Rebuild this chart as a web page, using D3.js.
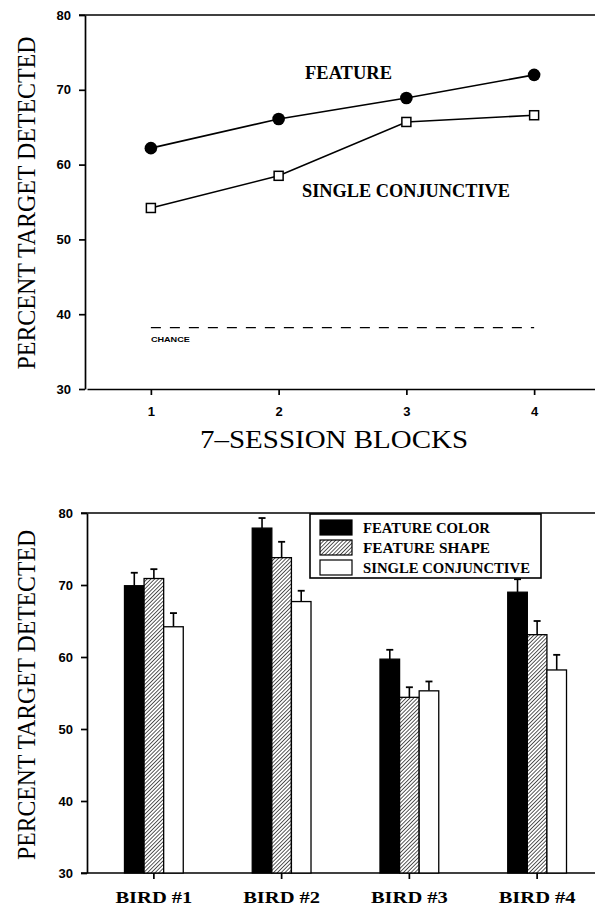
<!DOCTYPE html>
<html>
<head>
<meta charset="utf-8">
<script src="https://cdn.jsdelivr.net/npm/d3@7"></script>
<style>
  body { margin: 0; background: #fff; }
  svg { display: block; }
</style>
</head>
<body>
<svg id="fig"></svg>
<script>
// page size
const width = 595, height = 909;

// top panel data
const blocks = [1, 2, 3, 4];
const featureVals = [62.2, 66.1, 68.9, 72.0];
const conjVals = [54.2, 58.5, 65.7, 66.6];
const chanceVal = 38.2;
const yTicks = [30, 40, 50, 60, 70, 80];

// bottom panel data
const birds = ["BIRD  #1", "BIRD  #2", "BIRD  #3", "BIRD  #4"];
const seriesNames = ["FEATURE COLOR", "FEATURE SHAPE", "SINGLE CONJUNCTIVE"];
const colorVals = [69.9, 77.9, 59.7, 69.0];
const shapeVals = [70.9, 73.8, 54.4, 63.1];
const conjBarVals = [64.2, 67.7, 55.3, 58.2];
const colorErr = [1.8, 1.4, 1.3, 1.8];
const shapeErr = [1.3, 2.2, 1.4, 1.9];
const conjErr = [1.9, 1.5, 1.3, 2.1];

const svg = d3.select("#fig")
    .attr("width", width)
    .attr("height", height);

// hatch pattern for the shape bars
svg.append("defs").append("pattern")
    .attr("id", "hatch")
    .attr("patternUnits", "userSpaceOnUse")
    .attr("width", 2.7).attr("height", 2.7)
    .attr("patternTransform", "rotate(45)")
    .call(p => {
        p.append("rect").attr("width", 2.7).attr("height", 2.7).attr("fill", "#fff");
        p.append("line").attr("x1", 0).attr("y1", 0).attr("x2", 0).attr("y2", 2.7)
            .attr("stroke", "#000").attr("stroke-width", 1.3);
    });

const tickFont = "'Liberation Sans', Arial, sans-serif";
const serif = "'Liberation Serif', 'Times New Roman', serif";

function styleAxis(g) {
    g.selectAll("path, line").attr("stroke", "#000").attr("stroke-width", 1.7);
    g.selectAll("text")
        .attr("font-family", tickFont)
        .attr("font-weight", "bold")
        .attr("font-size", 13)
        .attr("fill", "#000");
}

// ---------- top panel ----------
const xTop = d3.scaleLinear().domain([0.5, 4.5]).range([87, 598]);
const yTop = d3.scaleLinear().domain([30, 80]).range([389, 15]);
const axisXTop = 85;

svg.append("g")
    .attr("transform", "translate(" + axisXTop + ",0)")
    .call(d3.axisLeft(yTop).tickValues(yTicks).tickSize(6).tickSizeOuter(0).tickPadding(8))
    .call(styleAxis);

svg.append("g")
    .attr("transform", "translate(0," + yTop(30) + ")")
    .call(d3.axisBottom(xTop).tickValues(blocks).tickFormat(d3.format("d"))
        .tickSize(6).tickSizeOuter(0).tickPadding(12))
    .call(styleAxis);

// frame line along the top
svg.append("line")
    .attr("x1", axisXTop - 6).attr("x2", width)
    .attr("y1", yTop(80)).attr("y2", yTop(80))
    .attr("stroke", "#000").attr("stroke-width", 1.7);

// chance line
svg.append("line")
    .attr("x1", xTop(1)).attr("x2", xTop(4))
    .attr("y1", yTop(chanceVal)).attr("y2", yTop(chanceVal))
    .attr("stroke", "#000").attr("stroke-width", 1.4)
    .attr("stroke-dasharray", "10,9");

svg.append("text")
    .attr("x", xTop(1)).attr("y", yTop(chanceVal) + 14)
    .attr("font-family", tickFont).attr("font-weight", "bold")
    .attr("font-size", 7.5)
    .attr("textLength", 39).attr("lengthAdjust", "spacingAndGlyphs")
    .text("CHANCE");

const line = d3.line()
    .x((d, i) => xTop(blocks[i]))
    .y(d => yTop(d));

svg.append("path")
    .datum(featureVals)
    .attr("d", line)
    .attr("fill", "none").attr("stroke", "#000").attr("stroke-width", 1.6);

svg.append("path")
    .datum(conjVals)
    .attr("d", line)
    .attr("fill", "none").attr("stroke", "#000").attr("stroke-width", 1.6);

svg.selectAll(".feat-dot")
    .data(featureVals)
    .enter().append("circle")
    .attr("class", "feat-dot")
    .attr("cx", (d, i) => xTop(blocks[i]))
    .attr("cy", d => yTop(d))
    .attr("r", 6.3)
    .attr("fill", "#000");

svg.selectAll(".conj-sq")
    .data(conjVals)
    .enter().append("rect")
    .attr("class", "conj-sq")
    .attr("x", (d, i) => xTop(blocks[i]) - 4.5)
    .attr("y", d => yTop(d) - 4.5)
    .attr("width", 9).attr("height", 9)
    .attr("fill", "#fff").attr("stroke", "#000").attr("stroke-width", 1.5);

// series labels
svg.append("text")
    .attr("x", 305).attr("y", 79)
    .attr("font-family", serif).attr("font-weight", "bold").attr("font-size", 18)
    .attr("textLength", 87).attr("lengthAdjust", "spacingAndGlyphs")
    .text("FEATURE");

svg.append("text")
    .attr("x", 302).attr("y", 197)
    .attr("font-family", serif).attr("font-weight", "bold").attr("font-size", 18)
    .attr("textLength", 208).attr("lengthAdjust", "spacingAndGlyphs")
    .text("SINGLE CONJUNCTIVE");

// axis titles
svg.append("text")
    .attr("x", 334).attr("y", 448)
    .attr("text-anchor", "middle")
    .attr("font-family", serif).attr("font-size", 26)
    .attr("textLength", 268).attr("lengthAdjust", "spacingAndGlyphs")
    .text("7\u2013SESSION BLOCKS");

svg.append("text")
    .attr("transform", "translate(35,203) rotate(-90)")
    .attr("text-anchor", "middle")
    .attr("font-family", serif).attr("font-size", 26)
    .attr("textLength", 333).attr("lengthAdjust", "spacingAndGlyphs")
    .text("PERCENT TARGET DETECTED");

// ---------- bottom panel ----------
const xBot = d3.scaleBand().domain(birds).range([90, 601])
    .paddingInner(0.54).paddingOuter(0.27);
const xSub = d3.scaleBand().domain(seriesNames).range([0, xBot.bandwidth()]);
const yBot = d3.scaleLinear().domain([30, 80]).range([873, 513]);
const axisXBot = 87;

svg.append("g")
    .attr("transform", "translate(" + axisXBot + ",0)")
    .call(d3.axisLeft(yBot).tickValues(yTicks).tickSize(6).tickSizeOuter(0).tickPadding(8))
    .call(styleAxis);

const birdAxis = svg.append("g")
    .attr("transform", "translate(0," + yBot(30) + ")")
    .call(d3.axisBottom(xBot).tickSize(6).tickSizeOuter(0).tickPadding(12))
    .call(styleAxis);

birdAxis.select(".domain").attr("d", "M" + (axisXBot - 6) + ",0H" + width);
birdAxis.selectAll("text")
    .attr("font-family", serif).attr("font-size", 17)
    .attr("textLength", 77).attr("lengthAdjust", "spacingAndGlyphs");

svg.append("line")
    .attr("x1", axisXBot - 6).attr("x2", width)
    .attr("y1", yBot(80)).attr("y2", yBot(80))
    .attr("stroke", "#000").attr("stroke-width", 1.7);

const barSeries = [
    { name: seriesNames[0], vals: colorVals, errs: colorErr, fill: "#000" },
    { name: seriesNames[1], vals: shapeVals, errs: shapeErr, fill: "url(#hatch)" },
    { name: seriesNames[2], vals: conjBarVals, errs: conjErr, fill: "#fff" }
];

const groups = svg.selectAll(".series")
    .data(barSeries)
    .enter().append("g")
    .attr("class", "series");

// error bars (drawn under the bars)
groups.each(function(s) {
    const g = d3.select(this);
    birds.forEach((b, i) => {
        const cx = xBot(b) + xSub(s.name) + xSub.bandwidth() / 2;
        const top = yBot(s.vals[i] + s.errs[i]);
        g.append("line")
            .attr("x1", cx).attr("x2", cx)
            .attr("y1", yBot(s.vals[i])).attr("y2", top)
            .attr("stroke", "#000").attr("stroke-width", 1.6);
        g.append("line")
            .attr("x1", cx - 3.5).attr("x2", cx + 3.5)
            .attr("y1", top).attr("y2", top)
            .attr("stroke", "#000").attr("stroke-width", 1.8);
    });
});

groups.selectAll("rect")
    .data(s => s.vals.map((v, i) => ({ name: s.name, bird: birds[i], v: v, fill: s.fill })))
    .enter().append("rect")
    .attr("x", d => xBot(d.bird) + xSub(d.name))
    .attr("y", d => yBot(d.v))
    .attr("width", xSub.bandwidth())
    .attr("height", d => yBot(30) - yBot(d.v))
    .attr("fill", d => d.fill)
    .attr("stroke", "#000").attr("stroke-width", 1.3);

// legend
const legend = svg.append("g").attr("transform", "translate(310,514)");
legend.append("rect")
    .attr("width", 231).attr("height", 64)
    .attr("fill", "#fff").attr("stroke", "#000").attr("stroke-width", 1.6);

const legendRows = legend.selectAll(".lrow")
    .data(barSeries)
    .enter().append("g")
    .attr("class", "lrow")
    .attr("transform", (d, i) => "translate(10," + (6 + i * 20) + ")");

legendRows.append("rect")
    .attr("width", 32).attr("height", 15)
    .attr("fill", d => d.fill)
    .attr("stroke", "#000").attr("stroke-width", 1.2);

legendRows.append("text")
    .attr("x", 43).attr("y", 13)
    .attr("font-family", serif).attr("font-weight", "bold").attr("font-size", 15)
    .attr("textLength", d => d.name === "SINGLE CONJUNCTIVE" ? 167 : 127)
    .attr("lengthAdjust", "spacingAndGlyphs")
    .text(d => d.name);

svg.append("text")
    .attr("transform", "translate(35,695) rotate(-90)")
    .attr("text-anchor", "middle")
    .attr("font-family", serif).attr("font-size", 26)
    .attr("textLength", 330).attr("lengthAdjust", "spacingAndGlyphs")
    .text("PERCENT TARGET DETECTED");
</script>
</body>
</html>
